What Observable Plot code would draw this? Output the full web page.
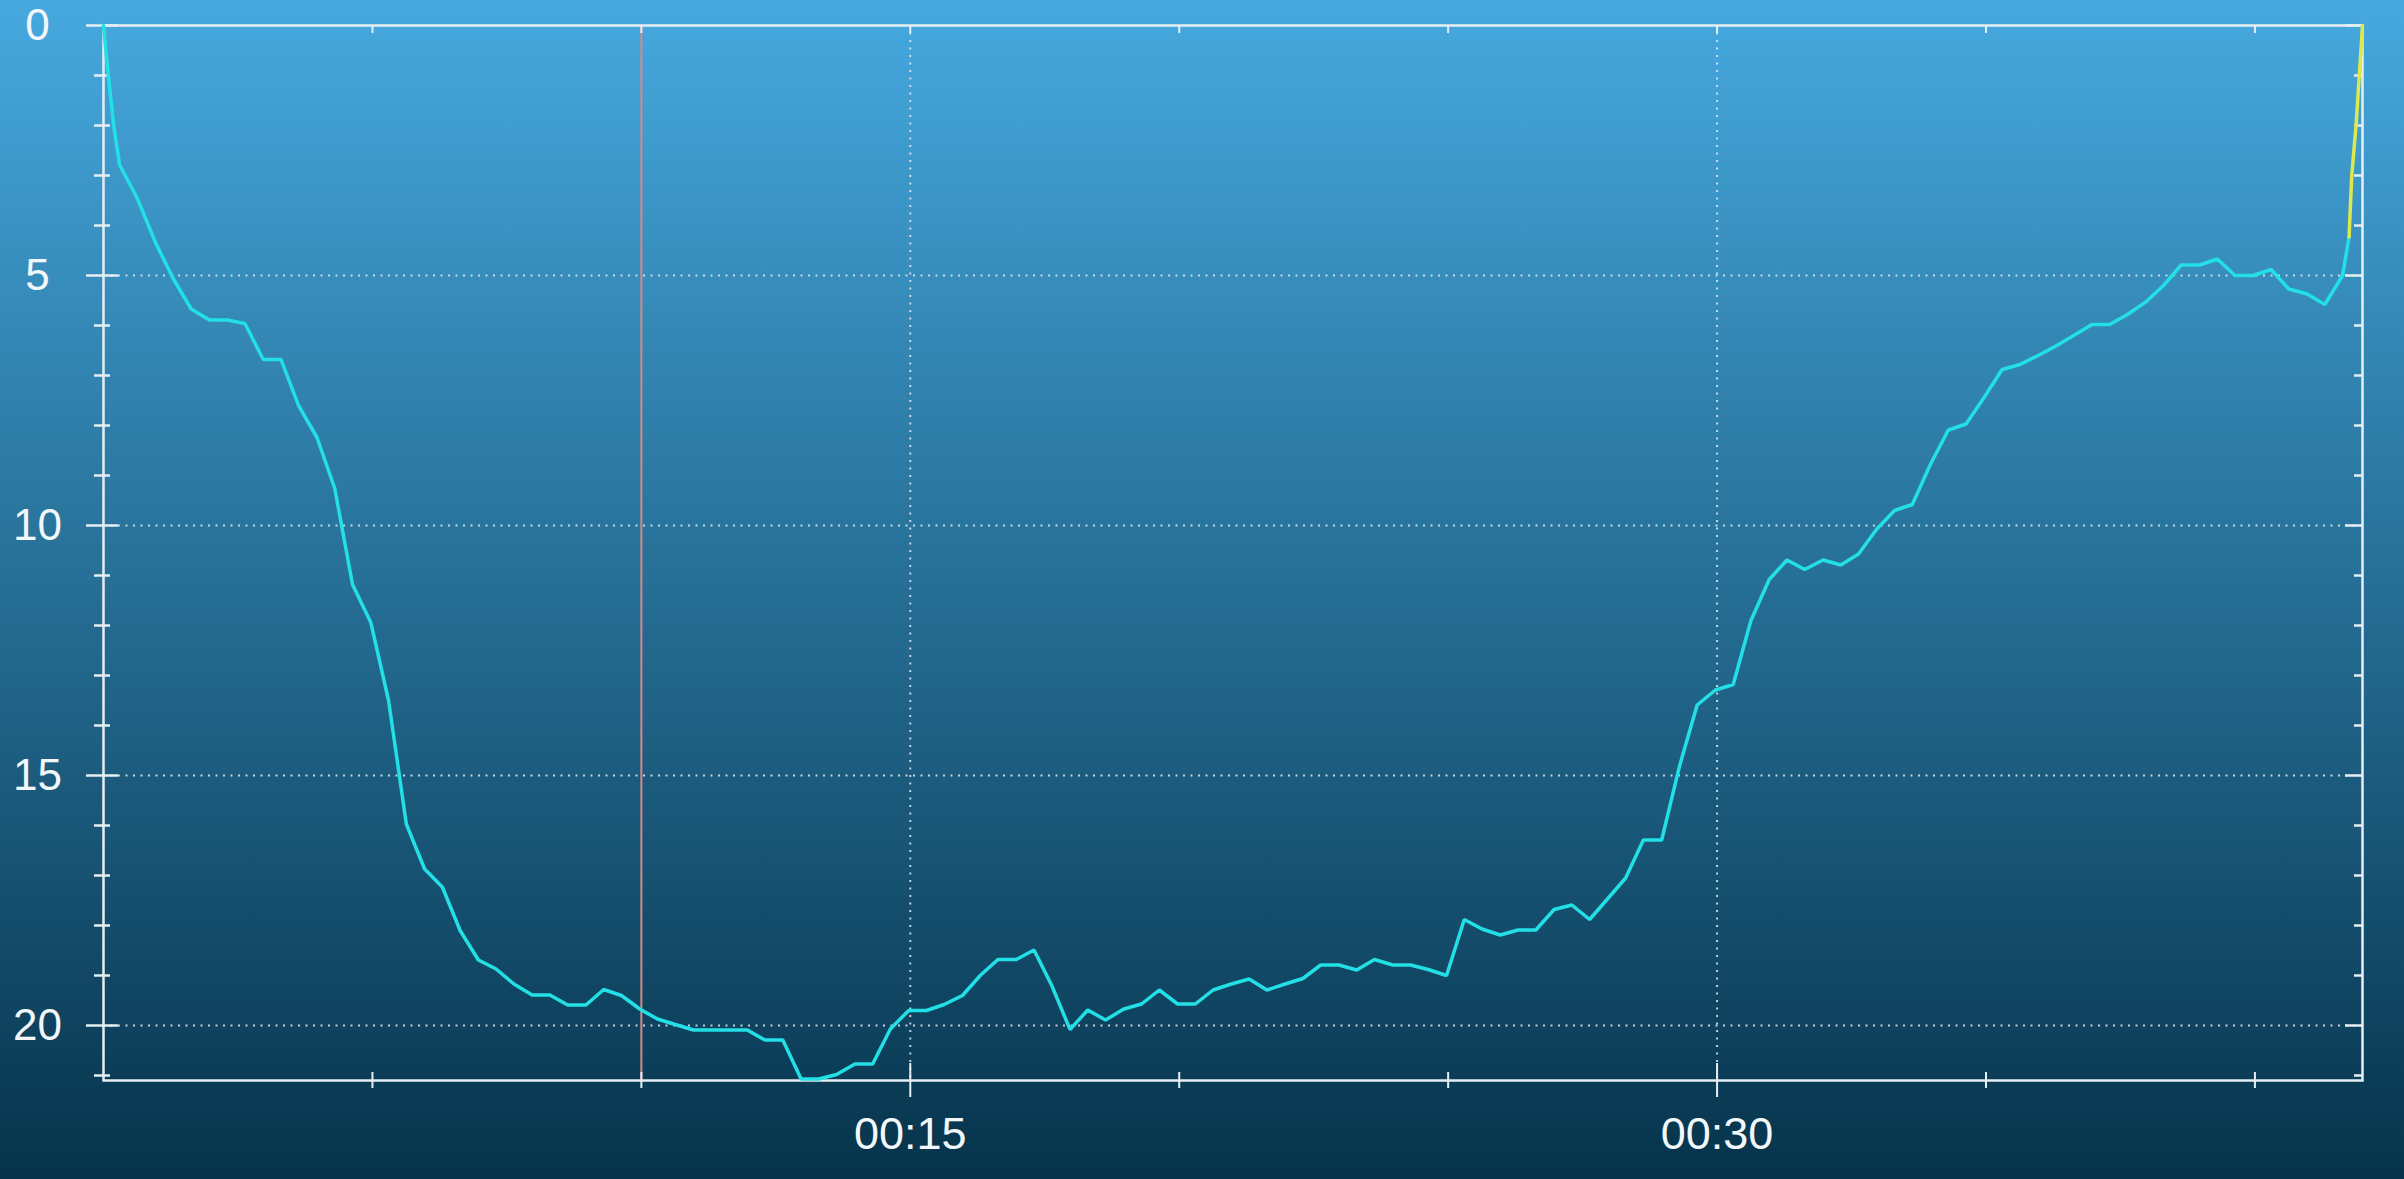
<!DOCTYPE html>
<html>
<head>
<meta charset="utf-8">
<script src="https://cdn.jsdelivr.net/npm/d3@7"></script>
<script src="https://cdn.jsdelivr.net/npm/@observablehq/plot@0.6"></script>
<style>
  html, body { margin: 0; padding: 0; overflow: hidden; }
  body { width: 2404px; height: 1179px; background: linear-gradient(to bottom, #46a9df 0%, #266e95 50%, #06334b 100%); }
  svg { display: block; }
</style>
</head>
<body>
<div id="chart"></div>
<script>
// Dive profile: time (minutes) and depth (m)
const times = [0, 0.08, 0.19, 0.30, 0.63, 0.97, 1.30, 1.63, 1.97, 2.30, 2.63, 2.97, 3.30, 3.63, 3.97, 4.30, 4.63, 4.97,
  5.30, 5.63, 5.97, 6.30, 6.63, 6.97, 7.30, 7.63, 7.97, 8.30, 8.63, 8.97, 9.30, 9.63, 9.97, 10.30, 10.63, 10.97,
  11.30, 11.63, 11.97, 12.30, 12.63, 12.97, 13.30, 13.63, 13.97, 14.30, 14.63, 14.97, 15.30, 15.63, 15.97, 16.30,
  16.63, 16.97, 17.30, 17.63, 17.97, 18.30, 18.63, 18.97, 19.30, 19.63, 19.97, 20.30, 20.63, 20.97, 21.30, 21.63,
  21.97, 22.30, 22.63, 22.97, 23.30, 23.63, 23.97, 24.30, 24.63, 24.97, 25.30, 25.63, 25.97, 26.30, 26.63, 26.97,
  27.30, 27.63, 27.97, 28.30, 28.63, 28.97, 29.30, 29.63, 29.97, 30.30, 30.63, 30.97, 31.30, 31.63, 31.97, 32.30,
  32.63, 32.97, 33.30, 33.63, 33.97, 34.30, 34.63, 34.97, 35.30, 35.63, 35.97, 36.30, 36.63, 36.97, 37.30, 37.63,
  37.97, 38.30, 38.63, 38.97, 39.30, 39.63, 39.97, 40.30, 40.63, 40.97, 41.30, 41.63, 41.75];
const depths = [0, 0.9, 2.0, 2.79, 3.46, 4.35, 5.07, 5.67, 5.89, 5.89, 5.96, 6.68, 6.68, 7.61, 8.24, 9.26, 11.18, 11.94,
  13.5, 15.97, 16.87, 17.23, 18.1, 18.69, 18.87, 19.17, 19.39, 19.39, 19.59, 19.59, 19.28, 19.4, 19.67, 19.87, 19.98, 20.09,
  20.09, 20.09, 20.09, 20.29, 20.29, 21.07, 21.07, 20.98, 20.77, 20.77, 20.07, 19.7, 19.7, 19.58, 19.4, 19.0,
  18.68, 18.68, 18.49, 19.2, 20.08, 19.69, 19.89, 19.67, 19.57, 19.29, 19.57, 19.57, 19.29, 19.17, 19.07, 19.29,
  19.17, 19.06, 18.79, 18.79, 18.89, 18.68, 18.79, 18.79, 18.88, 19.0, 17.88, 18.07, 18.19, 18.09, 18.09, 17.68,
  17.59, 17.88, 17.46, 17.05, 16.29, 16.29, 14.82, 13.59, 13.29, 13.18, 11.9, 11.08, 10.69, 10.88, 10.69, 10.79,
  10.57, 10.07, 9.7, 9.58, 8.77, 8.09, 7.97, 7.43, 6.88, 6.78, 6.6, 6.41, 6.2, 5.98, 5.98, 5.78,
  5.53, 5.2, 4.79, 4.79, 4.67, 5.0, 5.0, 4.88, 5.27, 5.37, 5.58, 5.0, 4.23];
// Final ascent (drawn in yellow)
const ascentTimes = [41.75, 41.80, 41.88, 41.94, 42.0];
const ascentDepths = [4.23, 3.0, 2.0, 1.0, 0];

// Axis ticks and labels
const yMajor = [0, 5, 10, 15, 20];
const yMinor = [1, 2, 3, 4, 6, 7, 8, 9, 11, 12, 13, 14, 16, 17, 18, 19, 21];
const yGrid = [5, 10, 15, 20];
const xMajor = [15, 30];
const xMinor = [5, 10, 20, 25, 35, 40];
const xTop = [5, 10, 15, 20, 25, 30, 35, 40];
const xLabels = ["00:15", "00:30"];
const markerTime = [10];
const xDomain = [0, 42];
const yDomain = [0, 21.1];

const profile = times.map((t, i) => ({t, d: depths[i]}));
const ascent = ascentTimes.map((t, i) => ({t, d: ascentDepths[i]}));
const xLab = xMajor.map((v, i) => ({v, label: xLabels[i]}));

const axisColor = "#e6eef2";
const gridColor = "rgba(225,235,240,0.85)";
const textColor = "#f3f7f9";
const yEnd = yDomain[1];
const xEnd = xDomain[1];

const chart = Plot.plot({
  width: 2404,
  height: 1179,
  marginLeft: 103,
  marginRight: 42,
  marginTop: 25,
  marginBottom: 99,
  x: {domain: xDomain, axis: null},
  y: {domain: yDomain, reverse: true, axis: null},
  style: {background: "transparent", fontFamily: "'Liberation Sans', Arial, sans-serif", color: textColor},
  marks: [
    // dotted grid
    Plot.ruleY(yGrid, {y: d => d, stroke: gridColor, strokeWidth: 2, strokeDasharray: "2,5.5"}),
    Plot.ruleX(xMajor, {x: d => d, stroke: gridColor, strokeWidth: 2, strokeDasharray: "2,5.5"}),
    // marker line
    Plot.ruleX(markerTime, {x: d => d, stroke: "#d48a88", strokeWidth: 2}),
    // frame
    Plot.frame({stroke: axisColor, strokeWidth: 2.5}),
    // left ticks
    Plot.ruleY(yMinor, {y: d => d, x1: 0, x2: 0, insetLeft: -9, insetRight: -7, stroke: axisColor, strokeWidth: 2.5}),
    Plot.ruleY(yMajor, {y: d => d, x1: 0, x2: 0, insetLeft: -17, insetRight: -15, stroke: axisColor, strokeWidth: 2.5}),
    // right ticks
    Plot.ruleY(yMinor, {y: d => d, x1: xEnd, x2: xEnd, insetLeft: -8, stroke: axisColor, strokeWidth: 2.5}),
    Plot.ruleY(yMajor, {y: d => d, x1: xEnd, x2: xEnd, insetLeft: -17, stroke: axisColor, strokeWidth: 2.5}),
    // bottom ticks
    Plot.ruleX(xMinor, {x: d => d, y1: yEnd, y2: yEnd, insetTop: -8, insetBottom: -8, stroke: axisColor, strokeWidth: 2}),
    Plot.ruleX(xMajor, {x: d => d, y1: yEnd, y2: yEnd, insetTop: -17, insetBottom: -17, stroke: axisColor, strokeWidth: 2}),
    // top ticks
    Plot.ruleX(xTop, {x: d => d, y1: 0, y2: 0, insetBottom: -8, stroke: axisColor, strokeWidth: 2}),
    // labels
    Plot.text(yMajor, {x: 0, y: d => d, text: d => String(d), dx: -66, dy: 0, textAnchor: "middle", fontSize: 44, fill: textColor}),
    Plot.text(xLab, {x: "v", y: yEnd, text: "label", dy: 54, textAnchor: "middle", fontSize: 45, fill: textColor}),
    // profile
    Plot.line(profile, {x: "t", y: "d", stroke: "#22e0e6", strokeWidth: 3.5, strokeLinejoin: "miter"}),
    Plot.line(ascent, {x: "t", y: "d", stroke: "#dde84c", strokeWidth: 3.5})
  ]
});
document.getElementById("chart").appendChild(chart);
</script>
</body>
</html>
